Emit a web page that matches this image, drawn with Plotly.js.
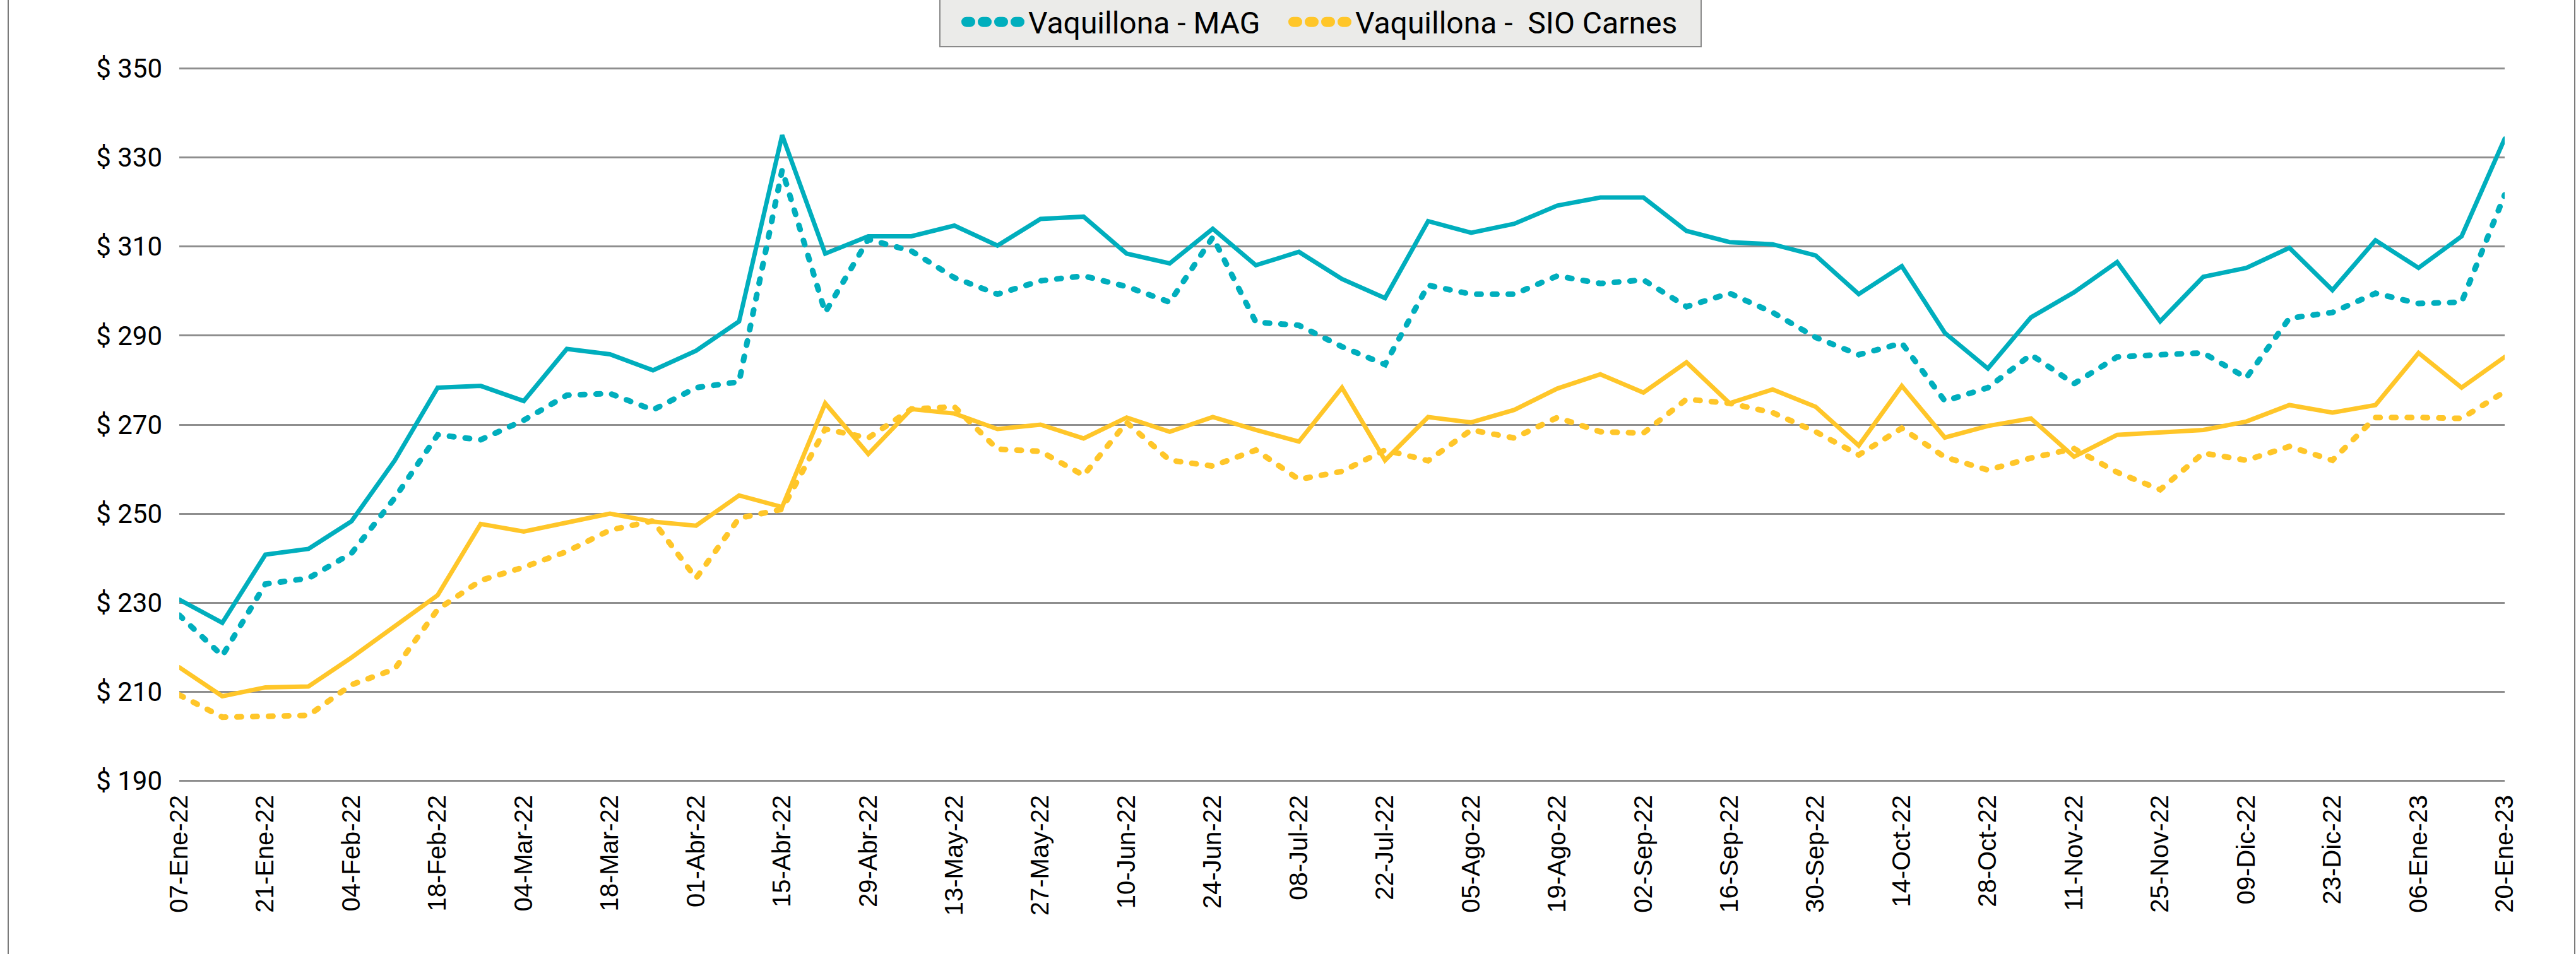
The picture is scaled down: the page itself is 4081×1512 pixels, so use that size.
<!DOCTYPE html>
<html>
<head>
<meta charset="utf-8">
<script src="https://cdn.plot.ly/plotly-3.0.1.min.js"></script>
<style>
  html, body { margin: 0; padding: 0; background: #ffffff; }
  #chart { width: 4081px; height: 1512px; }
  .js-line { stroke-linecap: round; }
</style>
</head>
<body>
<div id="chart"></div>
<script>
// Semanas (categorías)
var categories = [
  "07-Ene-22","14-Ene-22","21-Ene-22","28-Ene-22",
  "04-Feb-22","11-Feb-22","18-Feb-22","25-Feb-22",
  "04-Mar-22","11-Mar-22","18-Mar-22","25-Mar-22",
  "01-Abr-22","08-Abr-22","15-Abr-22","22-Abr-22","29-Abr-22",
  "06-May-22","13-May-22","20-May-22","27-May-22",
  "03-Jun-22","10-Jun-22","17-Jun-22","24-Jun-22",
  "01-Jul-22","08-Jul-22","15-Jul-22","22-Jul-22","29-Jul-22",
  "05-Ago-22","12-Ago-22","19-Ago-22","26-Ago-22",
  "02-Sep-22","09-Sep-22","16-Sep-22","23-Sep-22","30-Sep-22",
  "07-Oct-22","14-Oct-22","21-Oct-22","28-Oct-22",
  "04-Nov-22","11-Nov-22","18-Nov-22","25-Nov-22",
  "02-Dic-22","09-Dic-22","16-Dic-22","23-Dic-22","30-Dic-22",
  "06-Ene-23","13-Ene-23","20-Ene-23"
];

// Etiquetas visibles del eje X
var xTickLabels = [
  "07-Ene-22","21-Ene-22","04-Feb-22","18-Feb-22","04-Mar-22","18-Mar-22",
  "01-Abr-22","15-Abr-22","29-Abr-22","13-May-22","27-May-22","10-Jun-22",
  "24-Jun-22","08-Jul-22","22-Jul-22","05-Ago-22","19-Ago-22","02-Sep-22",
  "16-Sep-22","30-Sep-22","14-Oct-22","28-Oct-22","11-Nov-22","25-Nov-22",
  "09-Dic-22","23-Dic-22","06-Ene-23","20-Ene-23"
];

// Eje Y
var yTickVals = [190, 210, 230, 250, 270, 290, 310, 330, 350];
var yTickText = ["$ 190","$ 210","$ 230","$ 250","$ 270","$ 290","$ 310","$ 330","$ 350"];

// Series
var novilloMAG = [
  230.7,225.5,240.8,242.1,248.3,261.9,278.3,278.7,275.3,287.0,285.8,282.2,286.6,293.2,
  335.0,308.4,312.3,312.3,314.7,310.2,316.2,316.7,308.4,306.2,314.0,305.8,308.8,302.7,
  298.4,315.7,313.1,315.1,319.2,321.0,321.0,313.5,311.0,310.5,308.0,299.3,305.6,
  290.6,282.6,294.1,299.7,306.5,293.2,303.2,305.2,309.7,300.2,311.4,305.2,312.3,334.2
];
var vaquillonaMAG = [
  227.2,218.1,234.2,235.5,241.1,253.5,267.7,266.6,271.0,276.6,277.0,273.3,278.3,279.6,
  327.2,295.2,311.6,309.0,303.0,299.3,302.3,303.4,301.0,297.5,312.1,293.0,292.3,287.5,
  283.5,301.3,299.3,299.3,303.4,301.7,302.5,296.5,299.5,295.2,289.6,285.7,288.3,
  275.3,278.3,285.7,279.2,285.2,285.7,286.1,280.5,293.9,295.2,299.5,297.2,297.5,321.6
];
var novilloSIO = [
  215.5,209.0,211.0,211.2,217.7,224.6,231.7,247.7,246.0,248.0,250.0,248.2,247.3,254.1,
  251.5,274.8,263.4,273.5,272.5,269.0,270.0,266.9,271.6,268.4,271.7,268.8,266.2,278.3,
  262.0,271.7,270.5,273.3,278.1,281.3,277.2,284.0,274.8,277.9,274.0,265.3,278.7,
  267.1,269.7,271.4,262.8,267.7,268.2,268.8,270.7,274.4,272.7,274.4,286.1,278.3,285.2
];
var vaquillonaSIO = [
  209.3,204.3,204.5,204.7,211.6,215.1,228.5,235.0,238.0,241.5,246.3,248.4,235.5,249.0,
  251.0,269.0,267.0,273.5,274.0,264.5,264.0,258.6,270.5,262.0,260.7,264.3,257.7,259.5,
  264.3,261.9,268.8,267.0,271.6,268.4,268.1,275.7,274.8,272.7,268.4,263.2,269.2,
  262.7,259.8,262.5,264.6,259.3,255.4,263.6,262.0,265.1,262.0,271.6,271.6,271.4,277.4
];

var teal = "#00AEBD";
var yellow = "#FFC629";

var traces = [
  { x: categories, y: novilloMAG, type: "scatter", mode: "lines", name: "Novillo - MAG",
    showlegend: false, line: { color: teal, width: 7 } },
  { x: categories, y: novilloSIO, type: "scatter", mode: "lines", name: "Novillo - SIO Carnes",
    showlegend: false, line: { color: yellow, width: 7 } },
  { x: categories, y: vaquillonaMAG, type: "scatter", mode: "lines", name: "Vaquillona - MAG",
    line: { color: teal, width: 9, dash: "7px,18px" } },
  { x: categories, y: vaquillonaSIO, type: "scatter", mode: "lines", name: "Vaquillona -  SIO Carnes",
    line: { color: yellow, width: 9, dash: "7px,18px" } }
];

var W = 4081, H = 1512, ML = 284, MR = 113, MT = 107, MB = 273;
var PW = W - ML - MR, PH = H - MT - MB;
function px(xp) { return (xp - ML) / PW; }
function py(yp) { return (H - MB - yp) / PH; }

// Legend box geometry (pixels)
var LEG_LEFT = 1488, LEG_WIDTH = 1208, LEG_ITEM_X = [31, 549];

var layout = {
  width: W, height: H, autosize: false,
  margin: { l: ML, r: MR, t: MT, b: MB, pad: 0 },
  paper_bgcolor: "#ffffff", plot_bgcolor: "#ffffff",
  showlegend: true,
  legend: {
    orientation: "h", xref: "container", yref: "container",
    x: 2092 / W, xanchor: "center", y: 1 - 75 / H, yanchor: "bottom",
    bgcolor: "#EBEBE9", bordercolor: "#8A8A8A", borderwidth: 2,
    font: { family: "Roboto, Arial, sans-serif", size: 48, color: "#000000" },
    itemwidth: 100, traceorder: "normal"
  },
  xaxis: {
    type: "category", range: [0, 54], tickmode: "array",
    tickvals: xTickLabels, ticktext: xTickLabels, tickangle: -90,
    tickfont: { family: "Liberation Sans, Arial, sans-serif", size: 40, color: "#000000" },
    showgrid: false, zeroline: false, showline: false,
    ticks: "", ticklabelstandoff: 12, fixedrange: true
  },
  yaxis: {
    range: [189.8, 350.2], tickmode: "array", tickvals: yTickVals, ticktext: yTickText,
    tickfont: { family: "Roboto, Arial, sans-serif", size: 42, color: "#000000" },
    showgrid: true, gridcolor: "#8E8E8E", gridwidth: 3, zeroline: false, showline: false,
    ticks: "", ticklabelstandoff: 26, fixedrange: true
  },
  shapes: [
    { type: "line", xref: "paper", yref: "paper", x0: px(13), x1: px(13), y0: py(0), y1: py(1512),
      line: { color: "#7A7A7A", width: 2 } },
    { type: "line", xref: "paper", yref: "paper", x0: px(4079), x1: px(4079), y0: py(0), y1: py(1512),
      line: { color: "#7A7A7A", width: 2 } }
  ]
};

function parseTranslate(el) {
  var t = el.getAttribute("transform") || "";
  var m = /translate\(\s*([-\d.eE]+)[\s,]+([-\d.eE]+)\s*\)/.exec(t);
  return m ? [parseFloat(m[1]), parseFloat(m[2])] : [0, 0];
}

Plotly.newPlot("chart", traces, layout, { displayModeBar: false, staticPlot: true }).then(function () {
  document.querySelectorAll(".legendlines path").forEach(function (p) {
    p.setAttribute("d", "M12,0h84");
    p.style.strokeWidth = "16px";
    p.style.strokeDasharray = "6px,20px";
    p.style.strokeLinecap = "round";
  });
  var leg = document.querySelector("g.legend");
  if (!leg) return;
  var lt = parseTranslate(leg);
  leg.setAttribute("transform", "translate(" + LEG_LEFT + "," + lt[1] + ")");
  var bg = leg.querySelector("rect.bg");
  if (bg) bg.setAttribute("width", LEG_WIDTH - 2);
  var sb = leg.querySelector("g.scrollbox");
  if (sb) sb.removeAttribute("clip-path");
  var items = leg.querySelectorAll("g.traces");
  items.forEach(function (it, i) {
    if (i < LEG_ITEM_X.length) {
      var t = parseTranslate(it);
      it.setAttribute("transform", "translate(" + LEG_ITEM_X[i] + "," + t[1] + ")");
    }
  });
});
</script>
</body>
</html>
